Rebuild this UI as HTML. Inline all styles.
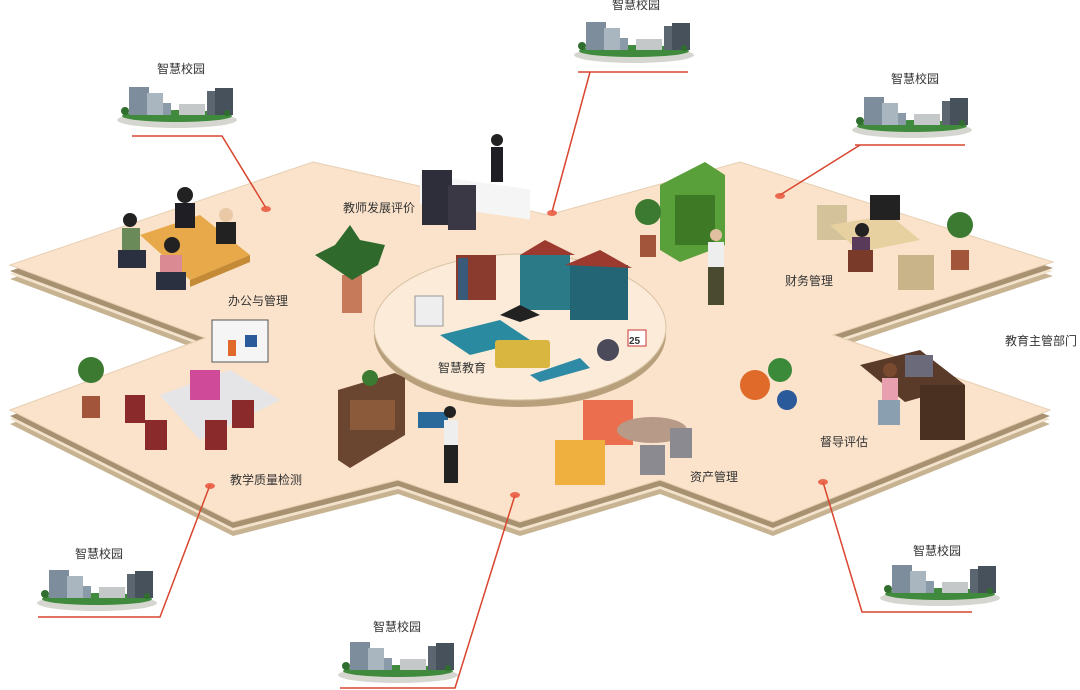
<!DOCTYPE html>
<html><head><meta charset="utf-8">
<style>
html,body{margin:0;padding:0;background:#fff;}
svg{display:block;}
text{font-family:"Liberation Sans","Noto Sans CJK SC",sans-serif;font-size:12px;fill:#333;}
</style></head><body>
<svg width="1080" height="690" viewBox="0 0 1080 690" xmlns="http://www.w3.org/2000/svg">
<defs>
<g id="campus">
  <ellipse cx="60" cy="37" rx="60" ry="8" fill="#d6d6d0"/>
  <ellipse cx="60" cy="33" rx="55" ry="6" fill="#3f8a3c"/>
  <rect x="12" y="4" width="20" height="28" fill="#7d8d9c"/>
  <rect x="30" y="10" width="16" height="22" fill="#a9b6c0"/>
  <rect x="46" y="20" width="8" height="12" fill="#8a9aa8"/>
  <rect x="62" y="21" width="26" height="11" fill="#c4c8c8"/>
  <rect x="90" y="8" width="8" height="24" fill="#5b6670"/>
  <rect x="98" y="5" width="18" height="27" fill="#46515c"/>
  <circle cx="8" cy="28" r="4" fill="#2f6e2e"/>
  <circle cx="110" cy="30" r="3" fill="#2f6e2e"/>
</g>
</defs>

<!-- platform side layers -->
<polygon transform="translate(0,14)" fill="#c7b391" points="313,162 548,215 740,162 1053,262 833,335 1050,410 773,522 660,480 520,522 398,480 233,522 10,410 205,338 10,265"/>
<polygon transform="translate(0,9)" fill="#f3e2cc" points="313,162 548,215 740,162 1053,262 833,335 1050,410 773,522 660,480 520,522 398,480 233,522 10,410 205,338 10,265"/>
<polygon transform="translate(0,6)" fill="#a89170" points="313,162 548,215 740,162 1053,262 833,335 1050,410 773,522 660,480 520,522 398,480 233,522 10,410 205,338 10,265"/>
<polygon fill="#fbe3cb" stroke="#e6cfb3" stroke-width="1" points="313,162 548,215 740,162 1053,262 833,335 1050,410 773,522 660,480 520,522 398,480 233,522 10,410 205,338 10,265"/>

<!-- central disc -->
<ellipse cx="520" cy="334" rx="146" ry="73" fill="#b8a07c"/>
<ellipse cx="520" cy="327" rx="146" ry="73" fill="#fcebd8" stroke="#d8c4a6" stroke-width="1"/>

<!-- connectors -->
<g stroke="#d9452e" stroke-width="1.5" fill="none">
  <polyline points="132,136 222,136 266,208"/>
  <polyline points="578,72 688,72"/><line x1="590" y1="72" x2="552" y2="212"/>
  <polyline points="855,145 965,145"/><line x1="860" y1="145" x2="780" y2="195"/>
  <polyline points="38,617 160,617 210,485"/>
  <polyline points="340,688 455,688 515,495"/>
  <polyline points="972,612 862,612 823,482"/>
</g>
<g fill="#e8553a" opacity="0.85">
  <ellipse cx="266" cy="209" rx="5" ry="3"/><ellipse cx="552" cy="213" rx="5" ry="3"/>
  <ellipse cx="780" cy="196" rx="5" ry="3"/><ellipse cx="210" cy="486" rx="5" ry="3"/>
  <ellipse cx="515" cy="495" rx="5" ry="3"/><ellipse cx="823" cy="482" rx="5" ry="3"/>
</g>

<!-- campuses -->
<use href="#campus" x="117" y="83"/>
<use href="#campus" x="574" y="18"/>
<use href="#campus" x="852" y="93"/>
<use href="#campus" x="37" y="566"/>
<use href="#campus" x="338" y="638"/>
<use href="#campus" x="880" y="561"/>
<text x="157" y="73">智慧校园</text>
<text x="612" y="9">智慧校园</text>
<text x="891" y="83">智慧校园</text>
<text x="75" y="558">智慧校园</text>
<text x="373" y="631">智慧校园</text>
<text x="913" y="555">智慧校园</text>

<!-- scenery: meeting (top-left) -->
<polygon points="140,235 200,215 250,255 190,280" fill="#e8a94a"/>
<polygon points="190,280 250,255 250,262 190,287" fill="#c48a35"/>
<circle cx="185" cy="195" r="8" fill="#222"/><rect x="175" y="203" width="20" height="25" fill="#1e1e24"/>
<circle cx="226" cy="215" r="7" fill="#e9c9a6"/><rect x="216" y="222" width="20" height="22" fill="#222"/>
<circle cx="130" cy="220" r="7" fill="#222"/><rect x="122" y="228" width="18" height="22" fill="#6b8a5a"/>
<rect x="118" y="250" width="28" height="18" fill="#2a3040"/>
<circle cx="172" cy="245" r="8" fill="#222"/><rect x="160" y="255" width="22" height="22" fill="#d98a92"/>
<rect x="156" y="272" width="30" height="18" fill="#2a3040"/>
<!-- teacher -->
<rect x="420" y="175" width="110" height="30" fill="#f5f5f5" transform="skewY(8) translate(0,-60)"/>
<rect x="422" y="170" width="30" height="55" fill="#2e2e3a"/>
<rect x="448" y="185" width="28" height="45" fill="#3a3844"/>
<circle cx="497" cy="140" r="6" fill="#222"/><rect x="491" y="147" width="12" height="35" fill="#1e1e24"/>
<!-- plant -->
<rect x="342" y="275" width="20" height="38" fill="#c67a5a"/>
<polygon points="352,280 315,255 335,245 350,225 360,240 385,245 378,265" fill="#2f6a2c"/>
<!-- central items -->
<rect x="520" y="255" width="50" height="55" fill="#2a7a88"/>
<polygon points="520,255 545,240 575,255" fill="#9c3a30"/>
<rect x="570" y="265" width="58" height="55" fill="#236574"/>
<polygon points="565,265 600,250 632,268" fill="#9c3a30"/>
<rect x="456" y="255" width="40" height="45" fill="#8b3a2e"/><rect x="458" y="258" width="10" height="42" fill="#3a5a7a"/>
<rect x="415" y="296" width="28" height="30" fill="#eee" stroke="#999"/>
<polygon points="440,335 500,320 530,340 470,355" fill="#2a8aa0"/>
<polygon points="500,315 520,305 540,315 520,322" fill="#222"/>
<rect x="495" y="340" width="55" height="28" rx="3" fill="#d8b640"/>
<polygon points="530,375 580,358 590,368 540,382" fill="#2f8aa5"/>
<circle cx="608" cy="350" r="11" fill="#4a4a5a"/>
<rect x="628" y="330" width="18" height="16" fill="#fff" stroke="#c33"/>
<text x="629" y="344" style="font-size:10px;font-weight:bold">25</text>
<!-- bookshelf green -->
<polygon points="660,185 705,162 725,175 725,245 680,262 660,250" fill="#5aa03a"/>
<rect x="675" y="195" width="40" height="50" fill="#3e7a25"/>
<circle cx="648" cy="212" r="13" fill="#3b7a30"/><rect x="640" y="235" width="16" height="22" fill="#a2553a"/>
<circle cx="716" cy="235" r="6" fill="#e0c0a0"/><rect x="708" y="242" width="16" height="25" fill="#eee"/><rect x="708" y="267" width="16" height="38" fill="#4a4a30"/>
<!-- finance -->
<rect x="817" y="205" width="30" height="35" fill="#d4c39a"/>
<polygon points="830,225 890,215 920,240 860,252" fill="#e8d1a0"/>
<rect x="870" y="195" width="30" height="25" fill="#222"/>
<circle cx="862" cy="230" r="7" fill="#222"/><rect x="852" y="237" width="18" height="25" fill="#5a3a5a"/>
<rect x="848" y="250" width="25" height="22" fill="#7a3a2a"/>
<rect x="898" y="255" width="36" height="35" fill="#c8b488"/>
<circle cx="960" cy="225" r="13" fill="#3b7a30"/><rect x="951" y="250" width="18" height="20" fill="#a2553a"/>
<!-- gears -->
<circle cx="755" cy="385" r="15" fill="#e06a2a"/><circle cx="780" cy="370" r="12" fill="#3a8a3a"/><circle cx="787" cy="400" r="10" fill="#2a5a9a"/>
<!-- supervisor desk -->
<polygon points="860,365 920,350 965,385 905,402" fill="#5a3a28"/>
<rect x="920" y="385" width="45" height="55" fill="#4a3020"/>
<rect x="905" y="355" width="28" height="22" fill="#6a6a7a"/>
<circle cx="890" cy="370" r="7" fill="#7a4a30"/><rect x="882" y="378" width="16" height="22" fill="#e8a0b0"/>
<rect x="878" y="400" width="22" height="25" fill="#8aa0b0"/>
<!-- data team -->
<rect x="212" y="320" width="56" height="42" fill="#f5f5f5" stroke="#555"/>
<rect x="228" y="340" width="8" height="16" fill="#e06a2a"/><rect x="245" y="335" r="0" width="12" height="12" fill="#2a5a9a"/>
<polygon points="160,395 230,370 280,400 200,440" fill="#e5e5e8"/>
<rect x="190" y="370" width="30" height="30" fill="#d04a9a"/>
<rect x="125" y="395" width="20" height="28" fill="#8a2a2a"/><rect x="145" y="420" width="22" height="30" fill="#8a2a2a"/>
<rect x="205" y="420" width="22" height="30" fill="#8a2a2a"/><rect x="232" y="400" width="22" height="28" fill="#8a2a2a"/>
<circle cx="91" cy="370" r="13" fill="#3b7a30"/><rect x="82" y="396" width="18" height="22" fill="#a2553a"/>
<!-- brown bookshelf -->
<polygon points="338,390 395,373 405,378 405,435 350,468 338,460" fill="#6a4530"/>
<rect x="350" y="400" width="45" height="30" fill="#8a5a3a"/>
<circle cx="370" cy="378" r="8" fill="#3b7a30"/>
<rect x="418" y="412" width="30" height="16" fill="#2a6a9a"/>
<circle cx="450" cy="412" r="6" fill="#222"/><rect x="444" y="420" width="14" height="25" fill="#eee"/><rect x="444" y="445" width="14" height="38" fill="#222"/>
<!-- assets -->
<rect x="583" y="400" width="50" height="45" fill="#e85a3a" opacity="0.85"/>
<rect x="555" y="440" width="50" height="45" fill="#f0b040"/>
<ellipse cx="652" cy="430" rx="35" ry="13" fill="#b89a88"/>
<rect x="640" y="445" width="25" height="30" fill="#8a8a90"/><rect x="670" y="428" width="22" height="30" fill="#8a8a90"/>

<!-- labels -->
<text x="228" y="305">办公与管理</text>
<text x="343" y="212">教师发展评价</text>
<text x="438" y="372">智慧教育</text>
<text x="230" y="484">教学质量检测</text>
<text x="785" y="285">财务管理</text>
<text x="1005" y="345">教育主管部门</text>
<text x="820" y="446">督导评估</text>
<text x="690" y="481">资产管理</text>
</svg>
</body></html>
